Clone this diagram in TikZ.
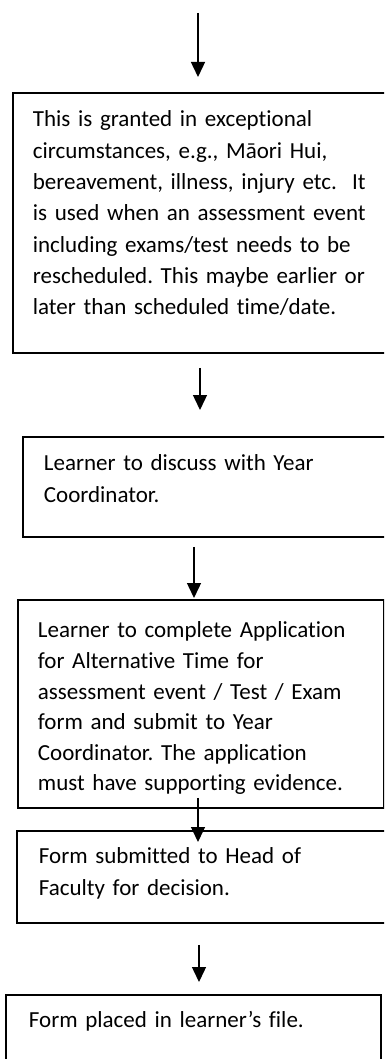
\documentclass[tikz,border=0pt]{standalone}
\usepackage{fontspec}
\setmainfont[Ligatures={NoCommon}]{Carlito}
\usetikzlibrary{positioning, arrows.meta}

\newcommand\boxfont{\fontsize{23}{31.3}\selectfont\frenchspacing}

\begin{document}
\begin{tikzpicture}[x=1pt,y=-1pt,
  stepbox/.style={draw, line width=1.8pt, anchor=north west, align=left,
    inner xsep=20pt, inner ysep=0pt, font=\boxfont},
  flow/.style={line width=1.4pt, -{Triangle[width=14pt,length=15pt]}}]
\useasboundingbox (0,0) rectangle (384,1059);
\clip (0,0) rectangle (384,1059);
\fill[white] (0,0) rectangle (384,1059);

% the boxes
\node[stepbox, text width=340pt, text height=34pt, text depth=226pt] (b1) at (12,92)
  {This is granted in exceptional\\
   circumstances, e.g., Māori Hui,\\
   bereavement, illness, injury etc.\ \ It\\
   is used when an assessment event\\
   including exams/test needs to be\\
   rescheduled. This maybe earlier or\\
   later than scheduled time/date.};
\node[stepbox, text width=330pt, text height=34pt, text depth=66pt] (b2) at (22,436)
  {\hspace{1pt}Learner to discuss with Year\\
   \hspace{1pt}Coordinator.};
\node[stepbox, text width=326pt, text height=38pt, text depth=170pt] (b3) at (17,599)
  {Learner to complete Application\\[-0.7pt]
   for Alternative Time for\\[-0.7pt]
   assessment event / Test / Exam\\[-0.7pt]
   form and submit to Year\\[-0.7pt]
   Coordinator. The application\\[-0.7pt]
   must have supporting evidence.};
\node[stepbox, text width=336pt, text height=33pt, text depth=59pt] (b4) at (16,830)
  {\hspace{2pt}Form submitted to Head of\\
   \hspace{2pt}Faculty for decision.};
\node[stepbox, text width=335pt, text height=33pt, text depth=48pt] (b5) at (5,994)
  {\hspace{3pt}Form placed in learner’s file.};

% columns of the arrows
\coordinate (top) at (198,13);
\coordinate (c2) at (200,0);
\coordinate (c3) at (194,0);
\coordinate (c4) at (198,0);
\coordinate (c5) at (199,0);

% the arrows
\draw[flow, shorten >=15pt] (top) -- (b1.north -| top);
\draw[flow, shorten <=14pt, shorten >=26pt] (b1.south -| c2) -- (b2.north -| c2);
\draw[flow, shorten <=9pt, shorten >=1pt] (b2.south -| c3) -- (b3.north -| c3);
\draw[flow, shorten <=-11pt, shorten >=-12pt] (b3.south -| c4) -- (b4.north -| c4);
\draw[flow, shorten <=21pt, shorten >=12pt] (b4.south -| c5) -- (b5.north -| c5);
\end{tikzpicture}
\end{document}
